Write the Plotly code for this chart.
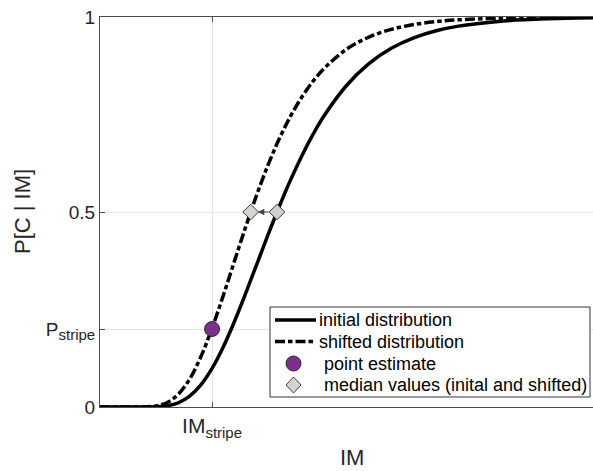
import plotly.graph_objects as go

# Intensity measure grid and fragility values P[C | IM]
im_grid = [0.0, 0.1, 0.15, 0.2, 0.25, 0.3, 0.35, 0.4, 0.45, 0.5, 0.55, 0.6, 0.65,
           0.7, 0.75, 0.8, 0.85, 0.9, 0.95, 1.0, 1.1, 1.2, 1.3, 1.4, 1.5, 1.6,
           1.8, 2.0, 2.2]
p_initial = [0.0, 0.0, 0.0, 0.0001, 0.0006, 0.0032, 0.0109, 0.0276, 0.0565, 0.0988,
             0.1539, 0.2192, 0.2913, 0.3666, 0.4418, 0.5142, 0.5817, 0.6432, 0.6983,
             0.7466, 0.8244, 0.8805, 0.9197, 0.9465, 0.9646, 0.9766, 0.9898, 0.9956,
             0.9980]
p_shifted = [0.0, 0.0, 0.0, 0.0003, 0.0027, 0.0115, 0.0330, 0.0717, 0.1289, 0.2019,
             0.2857, 0.3740, 0.4618, 0.5450, 0.6207, 0.6877, 0.7454, 0.7941, 0.8348,
             0.8682, 0.9172, 0.9486, 0.9683, 0.9806, 0.9881, 0.9927, 0.9972, 0.9989,
             0.9996]

# Stripe point and median values
im_stripe = 0.5
p_stripe = 0.2
median_initial = 0.79
median_shifted = 0.6725
p_median = 0.5

x_range = [0.0, 2.2]
y_ticks = [0, p_stripe, 0.5, 1]
sub_style = "<sub><span style='font-size:15px'>stripe</span></sub>"
y_ticktext = ["0", "P" + sub_style, "0.5", "1"]
x_ticktext = ["IM" + sub_style]

legend_labels = ["initial distribution", "shifted distribution",
                 "point estimate", "median values (inital and shifted)"]

font_family = "Liberation Sans, Arial, sans-serif"
text_color = "#262626"
curve_dash = "10px,3px,4.5px,3px"
purple = "#7E2F8E"
diamond_fill = ["#d6d4ce", "#cfcfcf"]

# plot area in pixels
L, R, T, B = 100, 593, 17, 407


def px_x(p):
    return (p - L) / (R - L)


def px_y(p):
    return (B - p) / (B - T)


fig = go.Figure()

fig.add_trace(go.Scatter(
    x=im_grid, y=p_initial, mode="lines", name=legend_labels[0],
    line=dict(color="black", width=3.5, shape="spline"),
))
fig.add_trace(go.Scatter(
    x=im_grid, y=p_shifted, mode="lines", name=legend_labels[1],
    line=dict(color="black", width=3.5, shape="spline", dash=curve_dash),
))
fig.add_trace(go.Scatter(
    x=[im_stripe], y=[p_stripe], mode="markers", name=legend_labels[2],
    marker=dict(symbol="circle", size=15, color=purple,
                line=dict(color="#2a2a2a", width=1)),
))
fig.add_trace(go.Scatter(
    x=[median_shifted, median_initial], y=[p_median, p_median], mode="markers",
    name=legend_labels[3],
    marker=dict(symbol="diamond", size=12, color=diamond_fill,
                line=dict(color="#3a3a3a", width=1)),
))

annotations = [
    # shift arrow between the two medians
    dict(x=median_shifted, y=p_median, ax=median_initial, ay=p_median,
         xref="x", yref="y", axref="x", ayref="y", text="",
         showarrow=True, arrowhead=2, arrowsize=1.1, arrowwidth=1.2,
         arrowcolor="#444444", standoff=7, startstandoff=7),
    # axis titles
    dict(x=px_x(352), y=px_y(457), xref="paper", yref="paper",
         text="IM", showarrow=False, xanchor="center", yanchor="middle",
         font=dict(family=font_family, size=22, color=text_color)),
    dict(x=px_x(22), y=0.5, xref="paper", yref="paper",
         text="P[C | IM]", showarrow=False, textangle=-90,
         xanchor="center", yanchor="middle",
         font=dict(family=font_family, size=22, color=text_color)),
]

# legend box drawn in paper space
box = dict(x0=270, x1=590, y0=307, y1=397)
rows_y = [320, 341.5, 363.5, 385]
shapes = [
    dict(type="rect", xref="paper", yref="paper", layer="above",
         x0=px_x(box["x0"]), x1=px_x(box["x1"]),
         y0=px_y(box["y0"]), y1=px_y(box["y1"]),
         fillcolor="white", line=dict(color="#333333", width=1)),
    dict(type="line", xref="paper", yref="paper", layer="above",
         x0=px_x(275), x1=px_x(316), y0=px_y(rows_y[0]), y1=px_y(rows_y[0]),
         line=dict(color="black", width=3.5)),
    dict(type="line", xref="paper", yref="paper", layer="above",
         x0=px_x(275), x1=px_x(316), y0=px_y(rows_y[1]), y1=px_y(rows_y[1]),
         line=dict(color="black", width=3.5, dash=curve_dash)),
    dict(type="circle", xref="paper", yref="paper", layer="above",
         x0=px_x(293.5 - 7.5), x1=px_x(293.5 + 7.5),
         y0=px_y(rows_y[2] - 7.5), y1=px_y(rows_y[2] + 7.5),
         fillcolor=purple, line=dict(color="#2a2a2a", width=1)),
]
cx, cy, hw, hh = 293.5, rows_y[3], 7.5, 8
diamond_path = "M {} {} L {} {} L {} {} L {} {} Z".format(
    px_x(cx), px_y(cy - hh), px_x(cx + hw), px_y(cy),
    px_x(cx), px_y(cy + hh), px_x(cx - hw), px_y(cy))
shapes.append(dict(type="path", xref="paper", yref="paper", layer="above",
                   path=diamond_path, fillcolor=diamond_fill[0],
                   line=dict(color="#3a3a3a", width=1)))

text_x = [317, 317, 322, 322]
for label, tx, ty in zip(legend_labels, text_x, rows_y):
    annotations.append(dict(
        x=px_x(tx), y=px_y(ty), xref="paper", yref="paper", text=label,
        showarrow=False, xanchor="left", yanchor="middle",
        font=dict(family=font_family, size=18, color="black")))

fig.update_layout(
    width=593, height=471,
    margin=dict(l=L, r=593 - R, t=T, b=471 - B),
    paper_bgcolor="white", plot_bgcolor="white",
    font=dict(family=font_family, color=text_color),
    showlegend=False,
    annotations=annotations,
    shapes=shapes,
)

fig.update_xaxes(
    range=x_range, tickmode="array", tickvals=[im_stripe], ticktext=x_ticktext,
    showgrid=True, gridcolor="#e3e3e3", gridwidth=1, zeroline=False,
    showline=True, linecolor="#4d4d4d", linewidth=1, mirror="ticks",
    ticks="inside", ticklen=5, tickcolor="#4d4d4d",
    tickfont=dict(family=font_family, size=21, color=text_color),
)
fig.update_yaxes(
    range=[0, 1], tickmode="array", tickvals=y_ticks, ticktext=y_ticktext,
    showgrid=True, gridcolor="#e3e3e3", gridwidth=1, zeroline=False,
    showline=True, linecolor="#4d4d4d", linewidth=1, mirror=False,
    ticks="inside", ticklen=5, tickcolor="#4d4d4d",
    tickfont=dict(family=font_family, size=19, color=text_color),
)

fig.write_html("out.html")
